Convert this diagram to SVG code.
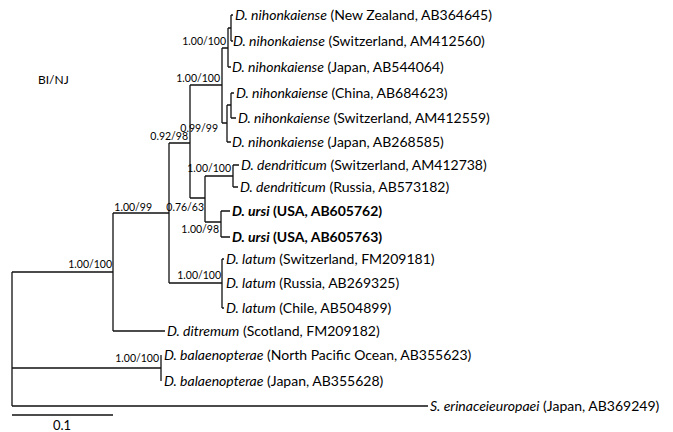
<svg xmlns="http://www.w3.org/2000/svg" width="673" height="432" viewBox="0 0 673 432">
<style>
.br{fill:none;stroke:#111;stroke-width:1.3}
.lf{font-family:Lato,"Open Sans","Liberation Sans",sans-serif;font-size:14px;fill:#000}
.sp{font-style:italic}
.b{font-weight:bold}
.sup{font-family:Lato,"Liberation Sans",sans-serif;font-size:10.5px;fill:#000;text-anchor:end}
</style>
<rect width="673" height="432" fill="#fff"/>
<g id="connectors" class="br">
<path d="M231,15V41M231,15H233M231,41H233"/>
<path d="M228,28V67M228,28H231M228,67H231"/>
<path d="M231,93V118M231,93H234M231,118H236"/>
<path d="M227,105V142M227,105H231M227,142H231"/>
<path d="M222,48V123M222,48H228M222,123H227"/>
<path d="M233,165V187M233,165H239M233,187H238"/>
<path d="M221,211V237M221,211H230M221,237H230"/>
<path d="M205,176V222M205,176H233M205,222H221"/>
<path d="M190,85V198M190,85H222M190,198H205"/>
<path d="M222,259V308M222,259H224M222,308H224"/>
<path d="M169,143V283M169,143H190M169,283H222"/>
<path d="M113,213V331M113,213H169M113,331H165"/>
<path d="M161,355V381"/>
<path d="M12,272V406M12,272H113M12,368H161M12,406H428"/>
<path d="M12,415H113"/>
</g>
<text x="38" y="84" font-family="Lato,'Liberation Sans',sans-serif" font-size="12">BI/NJ</text>
<g id="supports">
<text class="sup" x="226" y="45">1.00/100</text>
<text class="sup" x="220" y="82">1.00/100</text>
<text class="sup" x="218" y="132">0.99/99</text>
<text class="sup" x="188" y="140">0.92/98</text>
<text class="sup" x="231" y="172">1.00/100</text>
<text class="sup" x="204" y="211">0.76/63</text>
<text class="sup" x="152" y="211">1.00/99</text>
<text class="sup" x="219" y="233">1.00/98</text>
<text class="sup" x="221" y="279">1.00/100</text>
<text class="sup" x="112" y="268">1.00/100</text>
<text class="sup" x="159" y="362">1.00/100</text>
</g>
<g id="n1"><text class="lf" x="235" y="20"><tspan class="sp">D. nihonkaiense</tspan> (New Zealand, AB364645)</text></g>
<g id="n2"><text class="lf" x="233" y="46"><tspan class="sp">D. nihonkaiense</tspan> (Switzerland, AM412560)</text></g>
<g id="n3"><text class="lf" x="232" y="72"><tspan class="sp">D. nihonkaiense</tspan> (Japan, AB544064)</text></g>
<g id="n4"><text class="lf" x="236" y="98"><tspan class="sp">D. nihonkaiense</tspan> (China, AB684623)</text></g>
<g id="n5"><text class="lf" x="238" y="123"><tspan class="sp">D. nihonkaiense</tspan> (Switzerland, AM412559)</text></g>
<g id="n6"><text class="lf" x="232" y="147"><tspan class="sp">D. nihonkaiense</tspan> (Japan, AB268585)</text></g>
<g id="n7"><text class="lf" x="241" y="170"><tspan class="sp">D. dendriticum</tspan> (Switzerland, AM412738)</text></g>
<g id="n8"><text class="lf" x="240" y="192"><tspan class="sp">D. dendriticum</tspan> (Russia, AB573182)</text></g>
<g id="n9"><text class="lf b" x="232" y="216"><tspan class="sp">D. ursi</tspan> (USA, AB605762)</text></g>
<g id="n10"><text class="lf b" x="232" y="242"><tspan class="sp">D. ursi</tspan> (USA, AB605763)</text></g>
<g id="n11"><text class="lf" x="226" y="264"><tspan class="sp">D. latum</tspan> (Switzerland, FM209181)</text></g>
<g id="n12"><text class="lf" x="226" y="288"><tspan class="sp">D. latum</tspan> (Russia, AB269325)</text></g>
<g id="n13"><text class="lf" x="226" y="313"><tspan class="sp">D. latum</tspan> (Chile, AB504899)</text></g>
<g id="n14"><text class="lf" x="167" y="336"><tspan class="sp">D. ditremum</tspan> (Scotland, FM209182)</text></g>
<g id="n15"><text class="lf" x="164" y="360"><tspan class="sp">D. balaenopterae</tspan> (North Pacific Ocean, AB355623)</text></g>
<g id="n16"><text class="lf" x="164" y="386"><tspan class="sp">D. balaenopterae</tspan> (Japan, AB355628)</text></g>
<g id="n17"><text class="lf" x="430" y="411"><tspan class="sp">S. erinaceieuropaei</tspan> (Japan, AB369249)</text></g>
<text x="53" y="430" font-family="Lato,'Liberation Sans',sans-serif" font-size="13">0.1</text>
</svg>
